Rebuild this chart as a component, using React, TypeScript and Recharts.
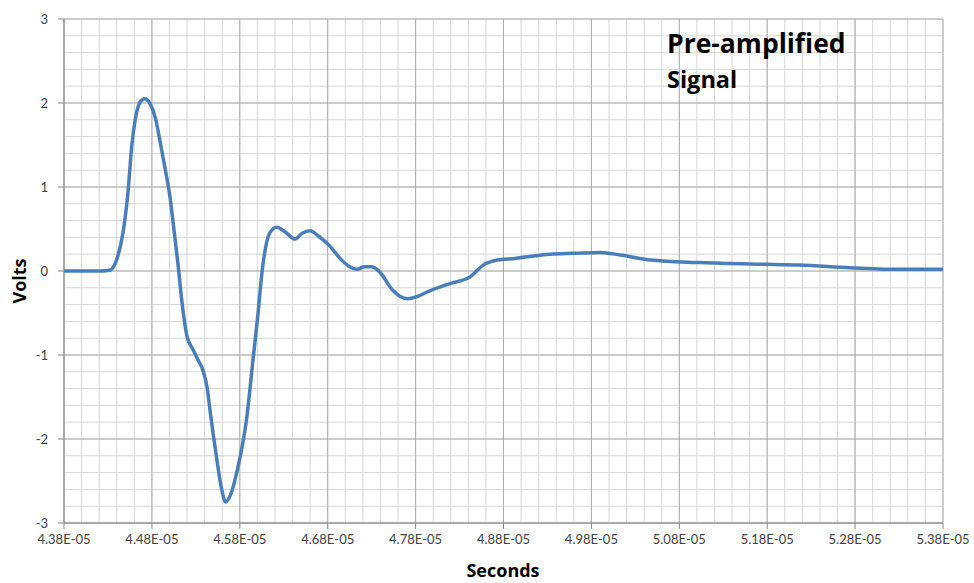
import { LineChart, Line, XAxis, YAxis, CartesianGrid } from 'recharts';

// time in microseconds, signal in volts
const timeUs = [
  43.8, 44.2, 44.32, 44.41, 44.47, 44.53, 44.57, 44.61, 44.66, 44.72,
  44.78, 44.84, 44.89, 44.95, 45.01, 45.05, 45.1, 45.14, 45.2, 45.27,
  45.32, 45.38, 45.43, 45.46, 45.54, 45.59, 45.64, 45.7, 45.78, 45.88,
  45.95, 46.0, 46.06, 46.14, 46.22, 46.31, 46.43, 46.51, 46.6, 46.69,
  46.83, 46.94, 47.05, 47.13, 47.22, 47.3, 47.39, 47.54, 47.62, 47.71,
  47.83, 47.93, 48.19, 48.42, 48.57, 48.73, 48.93, 49.33, 49.61, 49.9,
  50.13, 50.47, 51.04, 51.72, 52.17, 52.74, 53.31, 53.8,
];
const volts = [
  0, 0, 0.01, 0.17, 0.45, 0.96, 1.48, 1.8, 2.0, 2.05,
  1.99, 1.82, 1.56, 1.22, 0.85, 0.5, 0.05, -0.35, -0.78, -0.94,
  -1.05, -1.18, -1.4, -1.65, -2.25, -2.58, -2.75, -2.65, -2.33, -1.74,
  -1.06, -0.58, 0.05, 0.45, 0.52, 0.47, 0.38, 0.45, 0.48, 0.42,
  0.29, 0.15, 0.05, 0.02, 0.05, 0.05, -0.01, -0.23, -0.3, -0.33,
  -0.3, -0.25, -0.15, -0.07, 0.07, 0.13, 0.15, 0.2, 0.21, 0.22,
  0.19, 0.13, 0.1, 0.08, 0.07, 0.04, 0.02, 0.02,
];

const xTicks = [43.8, 44.8, 45.8, 46.8, 47.8, 48.8, 49.8, 50.8, 51.8, 52.8, 53.8];
const yTicks = [-3, -2, -1, 0, 1, 2, 3];

// minor grid every 0.2 units on both axes
const xMinor = Array.from({ length: 51 }, (_, i) => +(43.8 + i * 0.2).toFixed(1));
const yMinor = Array.from({ length: 31 }, (_, i) => +(-3 + i * 0.2).toFixed(1));

const data = timeUs.map((t, i) => ({ t, v: volts[i] }));

const fmtSeconds = (us: number) =>
  (us * 1e-6)
    .toExponential(2)
    .toUpperCase()
    .replace(/E([+-])(\d)$/, (_m, sign, d) => `E${sign}0${d}`);

const applyScale = (axis: any, v: number) => {
  const s = axis?.scale;
  if (typeof s === 'function') return s(v);
  if (s && typeof s.map === 'function') return s.map(v);
  return undefined;
};

const minorVertical = ({ xAxis }: any) =>
  xMinor.map((v) => applyScale(xAxis, v)).filter((p) => typeof p === 'number');
const minorHorizontal = ({ yAxis }: any) =>
  yMinor.map((v) => applyScale(yAxis, v)).filter((p) => typeof p === 'number');

const font = 'Lato, "Open Sans", sans-serif';
const titleFont = '"Open Sans", Lato, sans-serif';
const tickStyle = { fill: '#404040', fontSize: 13, fontFamily: font };

export default function App() {
  return (
    <div style={{ position: 'absolute', left: 0, top: 0, width: 974, height: 583, background: '#fff', fontFamily: font }}>
      <LineChart width={974} height={583} data={data} margin={{ top: 19, right: 31, bottom: 0, left: 0 }}>
        <CartesianGrid
          stroke="#d6d6d6"
          verticalCoordinatesGenerator={minorVertical}
          horizontalCoordinatesGenerator={minorHorizontal}
        />
        <CartesianGrid stroke="#adadad" />
        <XAxis
          dataKey="t"
          type="number"
          domain={[43.8, 53.8]}
          ticks={xTicks}
          interval={0}
          tickFormatter={fmtSeconds}
          height={60}
          stroke="#868686"
          tickSize={6}
          tickMargin={6}
          tick={tickStyle}
        />
        <YAxis
          type="number"
          domain={[-3, 3]}
          ticks={yTicks}
          interval={0}
          width={64}
          stroke="#868686"
          tickSize={6}
          tickMargin={10}
          tick={tickStyle}
        />
        <Line
          type="monotone"
          dataKey="v"
          stroke="#4a7ebb"
          strokeWidth={3.5}
          dot={false}
          isAnimationActive={false}
        />
      </LineChart>
      <div style={{ position: 'absolute', left: 667, top: 25, fontSize: 26.5, fontWeight: 700, color: '#000', fontFamily: titleFont, whiteSpace: 'nowrap' }}>
        Pre-amplified
      </div>
      <div style={{ position: 'absolute', left: 667, top: 63, fontSize: 23.5, fontWeight: 700, color: '#000', fontFamily: titleFont }}>
        Signal
      </div>
      <div
        style={{
          position: 'absolute',
          left: 19,
          top: 281,
          transform: 'translate(-50%, -50%) rotate(-90deg)',
          fontSize: 18,
          fontWeight: 700,
          color: '#000',
          fontFamily: titleFont,
        }}
      >
        Volts
      </div>
      <div
        style={{
          position: 'absolute',
          left: 503,
          top: 570,
          transform: 'translate(-50%, -50%)',
          fontSize: 18,
          fontWeight: 700,
          color: '#000',
          fontFamily: titleFont,
        }}
      >
        Seconds
      </div>
    </div>
  );
}
